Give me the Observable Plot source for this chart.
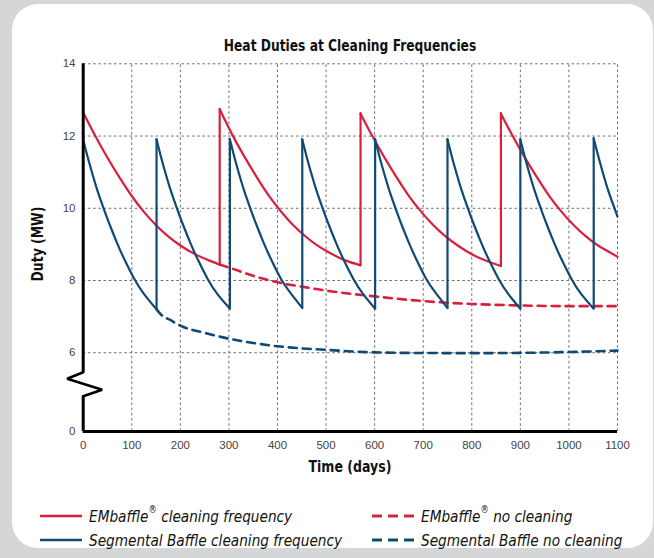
<!DOCTYPE html>
<html><head><meta charset="utf-8">
<script src="https://cdn.jsdelivr.net/npm/d3@7"></script>
<script src="https://cdn.jsdelivr.net/npm/@observablehq/plot@0.6"></script>
<style>
html,body{margin:0;padding:0;}
body{width:654px;height:558px;background:#d5d6d8;position:relative;overflow:hidden;font-family:"DejaVu Sans Condensed","DejaVu Sans",sans-serif;}
#panel{position:absolute;left:12px;top:4px;width:641px;height:544px;background:#fff;border-radius:26px;}
#chart{position:absolute;left:0;top:0;}
#title{position:absolute;left:0;width:700px;top:37px;text-align:center;font-weight:bold;font-size:15.5px;color:#111;transform:scaleX(0.88);transform-origin:350px 0;}
#ylab{position:absolute;left:38px;top:244px;transform:translate(-50%,-50%) rotate(-90deg) scaleX(0.92);font-weight:bold;font-size:15px;color:#111;white-space:nowrap;}
#xlab{position:absolute;left:0;width:700px;top:458px;text-align:center;font-weight:bold;font-size:15px;color:#111;transform:scaleX(0.93);transform-origin:350px 0;}
.leg{position:absolute;display:flex;align-items:center;font-style:italic;font-size:16.5px;color:#111;white-space:nowrap;}
.leg svg{margin-right:7px;}
.leg span{display:inline-block;transform:scaleX(0.92);transform-origin:0 50%;}
</style></head>
<body>
<div id="panel"></div>
<div id="chart"></div>
<div id="title">Heat Duties at Cleaning Frequencies</div>
<div id="ylab">Duty (MW)</div>
<div id="xlab">Time (days)</div>
<div id="legend"></div>
<script>
const red = "#d91f3d";
const blue = "#104a74";

const xTicks = [0,100,200,300,400,500,600,700,800,900,1000,1100];
const yTicks = [0,6,8,10,12,14];
const xGrid = [100,200,300,400,500,600,700,800,900,1000,1100];
const yGrid = [6,8,10,12,14];

// EMbaffle, with cleaning: one array per cleaning cycle [day, MW]
const emCycles = [
  [[0,12.65],[25,12.0],[50,11.4],[75,10.85],[100,10.34],[125,9.9],[150,9.53],[175,9.22],[200,8.97],[230,8.73],[260,8.55],[281,8.44]],
  [[281,12.74],[306,12.06],[331,11.45],[356,10.89],[381,10.37],[406,9.93],[431,9.55],[456,9.24],[481,8.98],[511,8.74],[541,8.55],[571,8.42]],
  [[571,12.62],[596,11.98],[621,11.39],[646,10.84],[671,10.33],[696,9.9],[721,9.53],[746,9.22],[771,8.97],[801,8.72],[831,8.54],[860,8.4]],
  [[860,12.62],[885,11.98],[910,11.39],[935,10.84],[960,10.33],[985,9.9],[1010,9.53],[1035,9.22],[1060,8.97],[1100,8.66]]
];
// EMbaffle, no cleaning
const emNoClean = [[281,8.44],[300,8.36],[350,8.13],[400,7.95],[450,7.83],[500,7.72],[600,7.56],[700,7.43],[800,7.35],[900,7.31],[1000,7.29],[1100,7.29]];

// Segmental baffle, with cleaning
const sbCycles = [
  [[0,11.88],[10,11.38],[20,10.9],[30,10.46],[42,10.0],[55,9.53],[70,9.03],[85,8.58],[105,8.05],[125,7.63],[151,7.2]],
  [[151,11.9],[161,11.38],[171,10.9],[181,10.46],[193,10.0],[206,9.53],[221,9.03],[236,8.58],[256,8.05],[276,7.63],[302,7.22]],
  [[302,11.9],[312,11.38],[322,10.9],[332,10.46],[344,10.0],[357,9.53],[372,9.03],[387,8.58],[407,8.05],[427,7.65],[451,7.24]],
  [[451,11.9],[461,11.38],[471,10.9],[481,10.46],[493,10.0],[506,9.53],[521,9.03],[536,8.58],[556,8.05],[576,7.63],[601,7.22]],
  [[601,11.9],[611,11.38],[621,10.9],[631,10.46],[643,10.0],[656,9.53],[671,9.03],[686,8.58],[706,8.05],[726,7.65],[750,7.24]],
  [[750,11.9],[760,11.38],[770,10.9],[780,10.46],[792,10.0],[805,9.53],[820,9.03],[835,8.58],[855,8.05],[875,7.63],[900,7.22]],
  [[900,11.9],[910,11.38],[920,10.9],[930,10.46],[942,10.0],[955,9.53],[970,9.03],[985,8.58],[1005,8.05],[1025,7.63],[1051,7.22]],
  [[1051,11.93],[1061,11.41],[1071,10.93],[1081,10.49],[1093,10.03],[1100,9.77]]
];
// Segmental baffle, no cleaning
const sbNoClean = [[151,7.2],[160,7.06],[180,6.9],[200,6.75],[250,6.55],[300,6.39],[350,6.27],[400,6.18],[500,6.08],[600,6.01],[700,5.98],[800,5.97],[900,5.99],[1000,6.02],[1100,6.06]];

// axis-break zigzag on the y axis, [day, MW] inside the compressed 0-6 band
const axisBreak = [[0,4.52],[-33,4.02],[39,3.18],[0,2.69]];

// broken y axis: the 0-6 band is compressed
const breakAt = 6, breakRatio = 0.3634;
const warp = v => v >= breakAt ? v : breakAt - (breakAt - v) * breakRatio;

const flat = cycles => cycles.flatMap((c,i) => c.map(([t,v]) => ({t, v, cycle:i})));
const pts = arr => arr.map(([t,v]) => ({t, v}));
const jumps = cycles => cycles.slice(1).map((c,i) => ({t:c[0][0], low:cycles[i][cycles[i].length-1][1], high:c[0][1]}));

const gridStyle = {stroke:"#6f6f6f", strokeWidth:1, strokeDasharray:"2.6,2.6", strokeOpacity:1};

const chart = Plot.plot({
  width: 654,
  height: 480,
  marginLeft: 83, marginRight: 37, marginTop: 63, marginBottom: 49,
  x: {domain:[0,1100], range:[82.7,617]},
  y: {transform: warp, domain:[warp(0),14], range:[431,63.3]},
  style: {background:"transparent", fontFamily:"'Liberation Sans', Arial, sans-serif", fontSize:"11.5px", color:"#444", overflow:"visible"},
  marks: [
    Plot.ruleY(yGrid, {y: d => d, x1:0, x2:1100, ...gridStyle}),
    Plot.ruleX(xGrid, {x: d => d, y1:0, y2:14, ...gridStyle}),
    Plot.axisX(xTicks, {tickSize:0, tickPadding:9, label:null, fill:"#444", tickFormat: d => String(d)}),
    Plot.axisY(yTicks, {tickSize:0, tickPadding:8, label:null, fill:"#444", tickFormat: d => String(d)}),
    Plot.line(pts(emNoClean), {x:"t", y:"v", stroke:red, strokeWidth:2.6, strokeDasharray:"8,6", curve:"monotone-x"}),
    Plot.line(pts(sbNoClean), {x:"t", y:"v", stroke:blue, strokeWidth:2.6, strokeDasharray:"8,6", curve:"monotone-x"}),
    Plot.line(flat(emCycles), {x:"t", y:"v", z:"cycle", stroke:red, strokeWidth:2.2, curve:"natural"}),
    Plot.ruleX(jumps(emCycles), {x:"t", y1:"low", y2:"high", stroke:red, strokeWidth:2.2, strokeLinecap:"round"}),
    Plot.line(flat(sbCycles), {x:"t", y:"v", z:"cycle", stroke:blue, strokeWidth:2.2, curve:"natural"}),
    Plot.ruleX(jumps(sbCycles), {x:"t", y1:"low", y2:"high", stroke:blue, strokeWidth:2.2, strokeLinecap:"round"}),
    Plot.ruleY([0], {x1:0, x2:1100, stroke:"#000", strokeWidth:3}),
    Plot.ruleX([0], {y1:4.52, y2:14, stroke:"#000", strokeWidth:3}),
    Plot.ruleX([0], {y1:0, y2:2.69, stroke:"#000", strokeWidth:3}),
    Plot.line(pts(axisBreak), {x:"t", y:"v", stroke:"#000", strokeWidth:2.6, strokeLinejoin:"miter"})
  ]
});
document.getElementById("chart").appendChild(chart);

// legend
const legendItems = [
  {label:"EMbaffle<sup>®</sup> cleaning frequency", color:red, dash:null, x:40, y:516},
  {label:"Segmental Baffle cleaning frequency", color:blue, dash:null, x:40, y:540},
  {label:"EMbaffle<sup>®</sup> no cleaning", color:red, dash:"10,6", x:372, y:516},
  {label:"Segmental Baffle no cleaning", color:blue, dash:"10,6", x:372, y:540}
];
const leg = document.getElementById("legend");
for (const it of legendItems) {
  const d = document.createElement("div");
  d.className = "leg";
  d.style.left = it.x + "px";
  d.style.top = (it.y - 11) + "px";
  d.style.height = "22px";
  d.innerHTML = `<svg width="42" height="6"><line x1="0" x2="42" y1="3" y2="3" stroke="${it.color}" stroke-width="${it.dash ? 3 : 2.6}" ${it.dash ? `stroke-dasharray="${it.dash}"` : ""}/></svg><span>${it.label.replace("<sup>", "<sup style='font-size:10px;position:relative;top:-2px'>")}</span>`;
  leg.appendChild(d);
}
</script>
</body></html>
